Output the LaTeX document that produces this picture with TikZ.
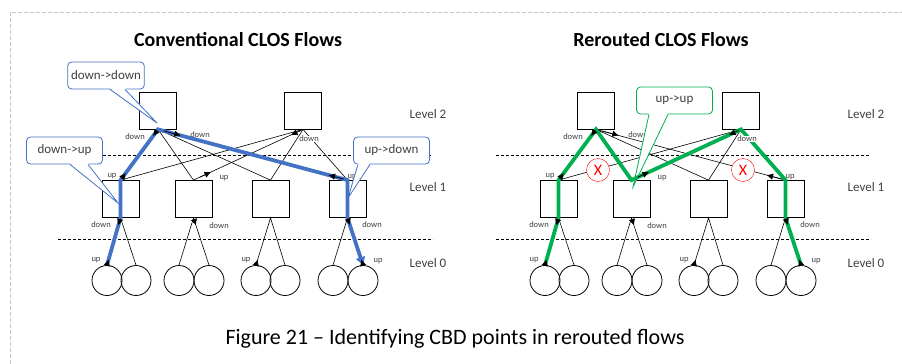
\documentclass[tikz,border=0pt]{standalone}
\usepackage{fontspec}
\setmainfont{Carlito}
\usetikzlibrary{calc,arrows.meta}

\definecolor{bubbleblue}{RGB}{68,114,196}
\definecolor{flowgreen}{RGB}{0,176,80}
\definecolor{textgray}{RGB}{64,64,64}

\tikzset{
  switch/.style={draw,minimum width=37pt,minimum height=37pt,inner sep=0pt,line width=0.8pt},
  host/.style={draw,circle,minimum size=30pt,inner sep=0pt,line width=0.8pt},
  link/.style={line width=0.6pt},
  port/.style={-{Latex[length=6.5pt,width=6.5pt]},line width=0.7pt},
  portlabel/.style={font=\fontsize{8.5}{9}\selectfont,text=textgray,inner sep=0.5pt},
  levellabel/.style={font=\fontsize{13}{15}\selectfont,text=textgray},
  bubble/.style={draw=#1,fill=white,rounded corners=4pt,line width=0.8pt,minimum width=76pt,minimum height=27pt,font=\fontsize{13}{15}\selectfont,text=textgray},
  separator/.style={line width=0.6pt,dash pattern=on 3pt off 2pt},
  flow/.style={line width=3.8pt,draw=#1},
}

\begin{document}
\begin{tikzpicture}[x=1pt,y=-1pt]
  \useasboundingbox (0,0) rectangle (902,364);
  \draw[gray!45,dash pattern=on 4pt off 2pt] (10,364) -- (10,12) -- (902,12);
  \node (title1) at (238,40) [font=\bfseries\fontsize{20}{24}\selectfont] {Conventional CLOS Flows};
  \node (title2) at (661,40) [font=\bfseries\fontsize{20}{24}\selectfont] {Rerouted CLOS Flows};
  \node (caption) at (455,339) [font=\fontsize{22}{26}\selectfont] {Figure 21 – Identifying CBD points in rerouted flows};

  % the two fabrics
  \foreach \s/\o in {L/0,R/438} {
    \node (s1\s) at (158+\o,110.5) [switch] {};
    \node (s2\s) at (303+\o,110.5) [switch] {};
    \node (l1\s) at (120.5+\o,199) [switch] {};
    \node (l2\s) at (193.5+\o,199) [switch] {};
    \node (l3\s) at (270.5+\o,199) [switch] {};
    \node (l4\s) at (347.5+\o,199) [switch] {};
    \node (h1\s) at (107+\o,280.5) [host] {};
    \node (h2\s) at (136+\o,280.5) [host] {};
    \node (h3\s) at (179+\o,280.5) [host] {};
    \node (h4\s) at (209+\o,280.5) [host] {};
    \node (h5\s) at (256+\o,280.5) [host] {};
    \node (h6\s) at (285+\o,280.5) [host] {};
    \node (h7\s) at (333+\o,280.5) [host] {};
    \node (h8\s) at (363+\o,280.5) [host] {};
    \foreach \i in {1,...,4}
      \draw[link] (s1\s.south) -- (l\i\s.north) (s2\s.south) -- (l\i\s.north);
    \foreach \i/\a/\b in {1/1/2,2/3/4,3/5/6,4/7/8}
      \draw[link] (h\a\s.north) -- (l\i\s.south) -- (h\b\s.north);
    \draw[separator] (58+\o,155) -- (432+\o,155);
    \draw[separator] (58+\o,239) -- (433+\o,239);
    \node[levellabel] at (428+\o,114) {Level 2};
    \node[levellabel] at (428+\o,187) {Level 1};
    \node[levellabel] at (428+\o,263) {Level 0};
    \node[portlabel] at (135+\o,137) {down};
    \node[portlabel] at (200+\o,135) {down};
    \node[portlabel] at (112+\o,176) {up};
    \node[portlabel] at (224+\o,178) {up};
    \node[portlabel] at (352+\o,177) {up};
    \node[portlabel] at (101+\o,225) {down};
    \node[portlabel] at (219+\o,226) {down};
    \node[portlabel] at (372+\o,225) {down};
    \node[portlabel] at (96+\o,260) {up};
    \node[portlabel] at (246+\o,260) {up};
    \node[portlabel] at (378+\o,261) {up};
  }

  % callouts
  \node (dd) at (106,75.5) [bubble=bubbleblue] {down->down};
  \node (du) at (64.5,150.5) [bubble=bubbleblue] {down->up};
  \node (ud) at (391.5,150.5) [bubble=bubbleblue] {up->down};
  \node (uu) at (674.5,100.5) [bubble=flowgreen] {up->up};
  \coordinate (ddtip) at (157,123);
  \coordinate (dutip) at (118,203);
  \coordinate (udtip) at (348,198);
  \coordinate (uutip) at (633,187);
  \foreach \c/\a/\b/\col in {dd/4/19/bubbleblue,du/5.5/23.5/bubbleblue,ud/-33.5/-21.5/bubbleblue,uu/-25.5/-6.5/flowgreen} {
    \fill[white] ([xshift=\a pt,yshift=1.5pt]\c.south) -- (\c tip) -- ([xshift=\b pt,yshift=1.5pt]\c.south) -- cycle;
    \draw[\col,line width=0.8pt] ([xshift=\a pt]\c.south) -- (\c tip) -- ([xshift=\b pt]\c.south);
  }

  % flows
  \draw[flow=bubbleblue,-{Triangle[length=8pt,width=9pt]}] (h1L.north) -- (l1L.south) -- (l1L.north) -- (s1L.south) -- (l4L.north) -- (l4L.south) -- (h8L.north);
  \draw[flow=flowgreen] (h1R.north) -- (l1R.south) -- (l1R.north) -- (s1R.south) -- (l2R.north) -- (s2R.south) -- (l4R.north) -- (l4R.south) -- (h8R.north);

  % port directions
  \foreach \s/\o in {L/0,R/438} {
    \node[portlabel,fill=white] at (309+\o,139) {down};
    \draw[port] ($(s1\s.south)!.02!(l1\s.north)$) -- ($(s1\s.south)!.13!(l1\s.north)$);
    \draw[port] ($(s1\s.south)!.03!(l4\s.north)$) -- ($(s1\s.south)!.12!(l4\s.north)$);
    \draw[port] ($(s2\s.south)!.02!(l2\s.north)$) -- ($(s2\s.south)!.11!(l2\s.north)$);
    \draw[port] ($(l1\s.north)!.03!(s1\s.south)$) -- ($(l1\s.north)!.14!(s1\s.south)$);
    \draw[port] ($(l2\s.north)!.06!(s2\s.south)$) -- ($(l2\s.north)!.16!(s2\s.south)$);
    \draw[port] ($(l4\s.north)!.02!(s1\s.south)$) -- ($(l4\s.north)!.1!(s1\s.south)$);
    \draw[port] ($(l1\s.south)!.04!(h1\s.north)$) -- ($(l1\s.south)!.16!(h1\s.north)$);
    \draw[port] ($(l2\s.south)!.04!(h4\s.north)$) -- ($(l2\s.south)!.16!(h4\s.north)$);
    \draw[port] ($(l4\s.south)!.03!(h8\s.north)$) -- ($(l4\s.south)!.15!(h8\s.north)$);
    \draw[port] ($(h1\s.north)!0!(l1\s.south)$) -- ($(h1\s.north)!.12!(l1\s.south)$);
    \draw[port] ($(h5\s.north)!0!(l3\s.south)$) -- ($(h5\s.north)!.12!(l3\s.south)$);
    \draw[port] ($(h8\s.north)!0!(l4\s.south)$) -- ($(h8\s.north)!.12!(l4\s.south)$);
  }

  % removed links
  \node (x1) at (598,170) [circle,draw=red,fill=white,minimum size=23pt,inner sep=0pt,text=red,font=\fontsize{16}{16}\selectfont] {X};
  \node (x2) at (743,170) [circle,draw=red,fill=white,minimum size=23pt,inner sep=0pt,text=red,font=\fontsize{16}{16}\selectfont] {X};
\end{tikzpicture}
\end{document}
